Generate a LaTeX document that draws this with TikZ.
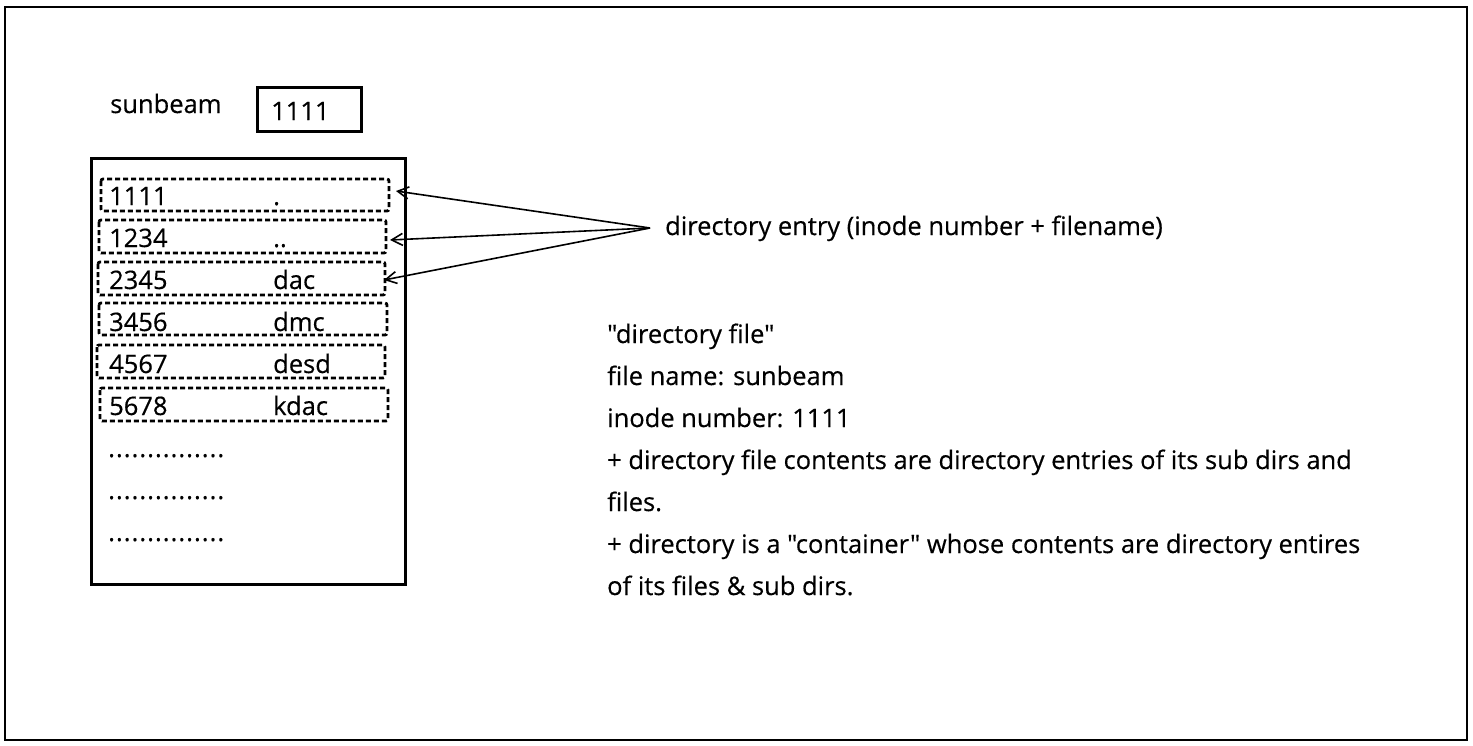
\documentclass[tikz,border=0pt]{standalone}
\usepackage{fontspec}
\setmainfont{Open Sans}[Ligatures=TeXOff,FakeBold=0.4]
\usetikzlibrary{arrows.meta}
\begin{document}
\begin{tikzpicture}[x=1pt,y=-1pt,
  txt/.style={inner sep=0pt,anchor=base west,font=\fontsize{25.5}{30}\selectfont},
  dots/.style={txt,font=\fontsize{25.5}{30}\selectfont\addfontfeatures{LetterSpace=4}},
  entry/.style={draw,line width=2.8pt,dash pattern=on 5pt off 3pt,rounded corners=2pt},
  solidbox/.style={draw,line width=3pt},
  ptr/.style={line width=1.6pt,-{Straight Barb[length=11pt,width=12pt,line width=1.6pt]}}]
\useasboundingbox (0,0) rectangle (1473,745);
\draw[line width=2.6pt] (5,7) rectangle (1467,740);
\node[txt] (sb) at (110,113) {sunbeam};
\draw[solidbox] (257,87) rectangle (361,131);
\node[txt] (ino) at (271,120) {1111};
\draw[solidbox] (91,158) rectangle (405,584);
\draw[entry] (101,179) rectangle (389,211);
\draw[entry] (99,220) rectangle (386,253);
\draw[entry] (98,262) rectangle (385,295);
\draw[entry] (99,303) rectangle (387,335);
\draw[entry] (97,345) rectangle (385,378);
\draw[entry] (100,388) rectangle (388,421);
\node[txt] (n1) at (109,205) {1111}; \node[txt] (f1) at (273,205) {.};
\node[txt] (n2) at (109,247) {1234}; \node[txt] (f2) at (273,247) {..};
\node[txt] (n3) at (109,289) {2345}; \node[txt] (f3) at (273,289) {dac};
\node[txt] (n4) at (109,331) {3456}; \node[txt] (f4) at (273,331) {dmc};
\node[txt] (n5) at (109,373) {4567}; \node[txt] (f5) at (273,373) {desd};
\node[txt] (n6) at (109,415) {5678}; \node[txt] (f6) at (273,415) {kdac};
\node[dots] (d1) at (108,457) {...............};
\node[dots] (d2) at (108,499) {...............};
\node[dots] (d3) at (108,541) {...............};
\coordinate (src) at (650,228);
\coordinate (t1) at (396,191);
\coordinate (t2) at (390,240);
\coordinate (t3) at (384,280);
\node[txt] (lab) at (665,235) {directory entry (inode number + filename)};
\draw[ptr] (src) -- (t1);
\draw[ptr] (src) -- (t2);
\draw[ptr] (src) -- (t3);
\node[txt] (p1) at (607,343) {"directory file"};
\node[txt] (p2) at (607,385) {file name: sunbeam};
\node[txt] (p3) at (607,427) {inode number: 1111};
\node[txt] (p4) at (607,469) {+ directory file contents are directory entries of its sub dirs and};
\node[txt] (p5) at (607,511) {files.};
\node[txt] (p6) at (607,553) {+ directory is a "container" whose contents are directory entires};
\node[txt] (p7) at (607,595) {of its files \& sub dirs.};
\end{tikzpicture}
\end{document}
